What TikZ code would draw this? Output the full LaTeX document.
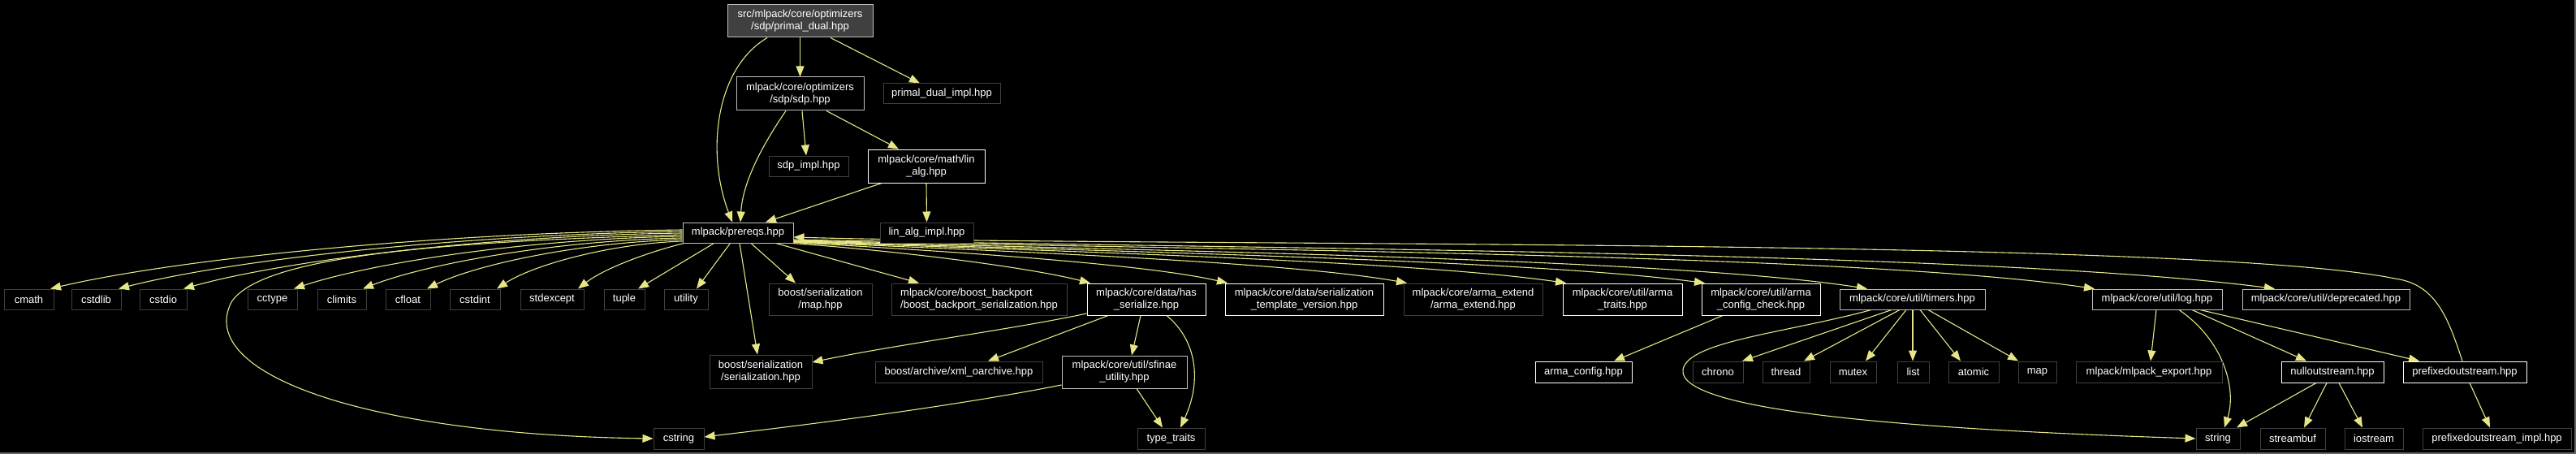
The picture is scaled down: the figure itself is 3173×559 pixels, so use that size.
\documentclass[tikz,border=0pt]{standalone}
\usepackage{fontspec}
\setmainfont{Liberation Sans}
\usetikzlibrary{arrows.meta}
\definecolor{edgec}{RGB}{230,230,135}
\definecolor{blight}{RGB}{191,191,191}
\definecolor{bdark}{RGB}{64,64,64}
\definecolor{framec}{RGB}{100,100,100}
\pgfdeclarelayer{bg}
\pgfsetlayers{bg,main}
\tikzset{
  box/.style={draw, line width=1pt, fill=black, text=white, inner sep=0pt,
    font=\fontsize{13}{15}\selectfont, align=center},
  bw/.style={draw=white},
  bl/.style={draw=blight},
  bd/.style={draw=bdark},
  inc/.style={draw=edgec, line width=1.1pt, -{Triangle[length=13pt,width=10pt]}}
}
\newcommand\gnode[7]{\node[box,#6,minimum width={(#3)-(#2)},minimum height={(#5)-(#4)}] (#1) at ({((#2)+(#3))/2},{((#4)+(#5))/2}) {#7};}
\begin{document}
\begin{tikzpicture}[x=1pt,y=-1pt]
\begin{pgfonlayer}{bg}
\fill[black] (0,0) rectangle (3173,559);
\end{pgfonlayer}
\useasboundingbox (0,0) rectangle (3173,559);
\draw[framec, line width=2pt] (0,558) -- (3172,558) -- (3172,0);
% rows 1-4
\gnode{pd}{896}{1075}{6}{46}{bl,fill=bdark}{src/mlpack/core/optimizers\\/sdp/primal\_dual.hpp}
\gnode{sdp}{907}{1064}{95}{136}{bl}{mlpack/core/optimizers\\/sdp/sdp.hpp}
\gnode{pdi}{1088}{1232}{103}{128}{bd}{primal\_dual\_impl.hpp}
\gnode{sdpi}{947}{1045}{192}{217}{bd}{sdp\_impl.hpp}
\gnode{la}{1069}{1213}{184}{225}{bw}{mlpack/core/math/lin\\\_alg.hpp}
\gnode{pre}{841}{977}{274}{299}{bl}{mlpack/prereqs.hpp}
\gnode{lai}{1084}{1199}{274}{299}{bd}{lin\_alg\_impl.hpp}
% row 5
\gnode{cmath}{5}{66}{356}{381}{bd}{cmath}
\gnode{cstdlib}{88}{149}{356}{381}{bd}{cstdlib}
\gnode{cstdio}{172}{230}{356}{381}{bd}{cstdio}
\gnode{cctype}{305}{366}{356}{381}{bd}{cctype}
\gnode{climits}{391}{451}{356}{381}{bd}{climits}
\gnode{cfloat}{475}{530}{356}{381}{bd}{cfloat}
\gnode{cstdint}{554}{616}{356}{381}{bd}{cstdint}
\gnode{stdexcept}{641}{719}{356}{381}{bd}{stdexcept}
\gnode{tuple}{744}{794}{356}{381}{bd}{tuple}
\gnode{utility}{818}{872}{356}{381}{bd}{utility}
\gnode{bmap}{947}{1074}{349}{388}{bd}{boost/serialization\\/map.hpp}
\gnode{bbp}{1098}{1314}{349}{388}{bd,align=left}{mlpack/core/boost\_backport\\/boost\_backport\_serialization.hpp}
\gnode{hs}{1339}{1485}{349}{388}{bw}{mlpack/core/data/has\\\_serialize.hpp}
\gnode{stv}{1509}{1704}{349}{388}{bw}{mlpack/core/data/serialization\\\_template\_version.hpp}
\gnode{ae}{1729}{1900}{349}{388}{bd}{mlpack/core/arma\_extend\\/arma\_extend.hpp}
\gnode{at}{1925}{2072}{349}{388}{bw}{mlpack/core/util/arma\\\_traits.hpp}
\gnode{acc}{2096}{2242}{349}{388}{bw}{mlpack/core/util/arma\\\_config\_check.hpp}
\gnode{tim}{2266}{2445}{356}{381}{bl}{mlpack/core/util/timers.hpp}
\gnode{log}{2577}{2737}{356}{381}{bl}{mlpack/core/util/log.hpp}
\gnode{dep}{2762}{2968}{356}{381}{bl}{mlpack/core/util/deprecated.hpp}
% row 6
\gnode{ser}{874}{1000}{437}{478}{bd}{boost/serialization\\/serialization.hpp}
\gnode{xml}{1078}{1284}{445}{471}{bd}{boost/archive/xml\_oarchive.hpp}
\gnode{sfu}{1308}{1462}{438}{478}{bl}{mlpack/core/util/sfinae\\\_utility.hpp}
\gnode{ac}{1891}{2010}{445}{471}{bw}{arma\_config.hpp}
\gnode{chrono}{2085}{2147}{445}{471}{bd}{chrono}
\gnode{thread}{2171}{2229}{445}{471}{bd}{thread}
\gnode{mutex}{2254}{2311}{445}{471}{bd}{mutex}
\gnode{list}{2337}{2376}{445}{471}{bd}{list}
\gnode{atomic}{2400}{2462}{445}{471}{bd}{atomic}
\gnode{map}{2486}{2533}{445}{471}{bd}{map}
\gnode{mex}{2557}{2737}{445}{471}{bd}{mlpack/mlpack\_export.hpp}
\gnode{nos}{2810}{2936}{445}{471}{bw}{nulloutstream.hpp}
\gnode{pos}{2960}{3112}{445}{471}{bw}{prefixedoutstream.hpp}
% row 7
\gnode{cstring}{805}{867}{527}{553}{bd}{cstring}
\gnode{tt}{1401}{1484}{527}{553}{bd}{type\_traits}
\gnode{string}{2705}{2759}{527}{553}{bd}{string}
\gnode{streambuf}{2784}{2864}{527}{553}{bd}{streambuf}
\gnode{iostream}{2888}{2960}{527}{553}{bd}{iostream}
\gnode{posi}{2984}{3167}{527}{553}{bd}{prefixedoutstream\_impl.hpp}
\coordinate (csj) at (285,372);
\coordinate (tsj) at (2073,455);
\coordinate (pj) at (2950,343);
\begin{pgfonlayer}{bg}
% top edges
\draw[inc] (pd.south) -- (sdp.north);
\draw[inc] ([xshift=37.5pt]pd.south) -- ([xshift=-27pt]pdi.north);
\draw[inc] ([xshift=-40.5pt]pd.south) .. controls (880,85) and (870,190) .. ([xshift=-7pt]pre.north);
\draw[inc] ([xshift=-17.5pt]sdp.south) .. controls (945,170) and (915,220) .. ([xshift=3pt]pre.north);
\draw[inc] ([xshift=2.5pt]sdp.south) -- ([xshift=-3pt]sdpi.north);
\draw[inc] ([xshift=32.5pt]sdp.south) -- ([xshift=-34pt]la.north);
\draw[inc] ([xshift=-55pt]la.south) -- ([xshift=34pt]pre.north);
\draw[inc] (la.south) -- (lai.north);
% left fan
\draw[inc] ([yshift=3.5pt]pre.west) .. controls (531,287) and (218,319) .. ([xshift=26.5pt]cmath.north);
\draw[inc] ([yshift=1.5pt]pre.west) .. controls (565,289) and (285,320) .. ([xshift=27.5pt]cstdlib.north);
\draw[inc] ([yshift=-0.5pt]pre.west) .. controls (599,290) and (350,321) .. ([xshift=25pt]cstdio.north);
\draw[inc] ([yshift=-4.5pt]pre.west) .. controls (653,294) and (460,323) .. ([xshift=26.5pt]cctype.north);
\draw[inc] ([yshift=-6.5pt]pre.west) .. controls (687,296) and (528,324) .. ([xshift=26pt]climits.north);
\draw[inc] ([yshift=-8.5pt]pre.west) .. controls (718,298) and (588,325) .. ([xshift=23.5pt]cfloat.north);
\draw[inc] ([yshift=-10.5pt]pre.west) .. controls (752,300) and (657,326) .. ([xshift=27pt]cstdint.north);
\draw[inc] ([xshift=2pt]pre.south west) .. controls (800,310) and (745,330) .. ([xshift=32pt]stdexcept.north);
\draw[inc] ([xshift=39pt]pre.south west) -- ([xshift=17pt]tuple.north);
\draw[inc] ([xshift=59pt]pre.south west) -- ([xshift=13pt]utility.north);
\draw[inc] ([yshift=-2.5pt]pre.west) .. controls (520,298) and (320,318) .. (csj) .. controls (240,460) and (450,535) .. (cstring.west);
% right fan
\draw[inc] ([xshift=16pt]pre.south) -- ([xshift=-30.5pt]bmap.north);
\draw[inc] ([xshift=-22pt]pre.south east) -- ([xshift=-74pt]bbp.north);
\draw[inc] ([xshift=-2pt]pre.south east) .. controls (1120,310) and (1270,330) .. ([xshift=-69pt]hs.north);
\draw[inc] ([yshift=-12pt]pre.east) .. controls (1180,310) and (1410,325) .. ([xshift=-94.5pt]stv.north);
\draw[inc] ([yshift=-11.5pt]pre.east) .. controls (1260,310) and (1590,323) .. ([xshift=-81.5pt]ae.north);
\draw[inc] ([yshift=-11pt]pre.east) .. controls (1330,310) and (1745,322) .. ([xshift=-69.5pt]at.north);
\draw[inc] ([yshift=-10.5pt]pre.east) .. controls (1380,310) and (1880,320) .. ([xshift=-69pt]acc.north);
\draw[inc] ([yshift=-10pt]pre.east) .. controls (1420,309) and (2060,318) .. ([xshift=-55.5pt]tim.north);
\draw[inc] ([yshift=-9.5pt]pre.east) .. controls (1500,308) and (2280,312) .. ([xshift=-77pt]log.north);
\draw[inc] ([yshift=-8.5pt]pre.east) .. controls (1600,307) and (2450,310) .. ([xshift=-63pt]dep.north);
\draw[inc] ([xshift=-3pt]pos.north) .. controls (3015,390) and (3000,350) .. (pj) .. controls (2700,292) and (1400,304) .. ([yshift=-5.5pt]pre.east);
% lower edges
\draw[inc] ([xshift=2pt]pre.south) -- ([xshift=-4pt]ser.north);
\draw[inc] ([yshift=-17.5pt]hs.west) .. controls (1250,405) and (1100,425) .. ([yshift=11.5pt]ser.east);
\draw[inc] ([xshift=-47pt]hs.south) -- ([xshift=36pt]xml.north);
\draw[inc] ([xshift=-7pt]hs.south) -- ([xshift=9pt]sfu.north);
\draw[inc] ([xshift=25pt]hs.south) .. controls (1475,420) and (1480,470) .. ([xshift=11.5pt]tt.north);
\draw[inc] ([yshift=-16pt]sfu.west) .. controls (1150,505) and (950,528) .. ([yshift=2pt]cstring.east);
\draw[inc] ([xshift=15pt]sfu.south) -- ([xshift=-10.5pt]tt.north);
\draw[inc] ([xshift=-47pt]acc.south) -- ([xshift=37.5pt]ac.north);
\draw[inc] ([xshift=-50.5pt]tim.south) .. controls (2200,410) and (2080,420) .. (tsj) .. controls (2065,510) and (2400,530) .. (string.west);
\draw[inc] ([xshift=-25.5pt]tim.south) -- ([xshift=30pt]chrono.north);
\draw[inc] ([xshift=-15.5pt]tim.south) -- ([xshift=22pt]thread.north);
\draw[inc] ([xshift=-7.5pt]tim.south) -- ([xshift=15.5pt]mutex.north);
\draw[inc] ([xshift=0.5pt]tim.south) -- ([xshift=-0.5pt]list.north);
\draw[inc] ([xshift=9.5pt]tim.south) -- ([xshift=-16pt]atomic.north);
\draw[inc] ([xshift=19.5pt]tim.south) -- ([xshift=-23.5pt]map.north);
\draw[inc] ([xshift=-1pt]log.south) -- ([xshift=2pt]mex.north);
\draw[inc] ([xshift=27pt]log.south) .. controls (2740,420) and (2755,480) .. ([xshift=8pt]string.north);
\draw[inc] ([xshift=43pt]log.south) -- ([xshift=-32pt]nos.north);
\draw[inc] ([xshift=53pt]log.south) -- ([xshift=-56pt]pos.north);
\draw[inc] ([xshift=-20pt]nos.south) -- ([xshift=23pt]string.north);
\draw[inc] ([xshift=-7pt]nos.south) -- ([xshift=14pt]streambuf.north);
\draw[inc] ([xshift=8pt]nos.south) -- ([xshift=-14pt]iostream.north);
\draw[inc] ([xshift=6pt]pos.south) -- ([xshift=-8.5pt]posi.north);
\end{pgfonlayer}
\end{tikzpicture}
\end{document}
